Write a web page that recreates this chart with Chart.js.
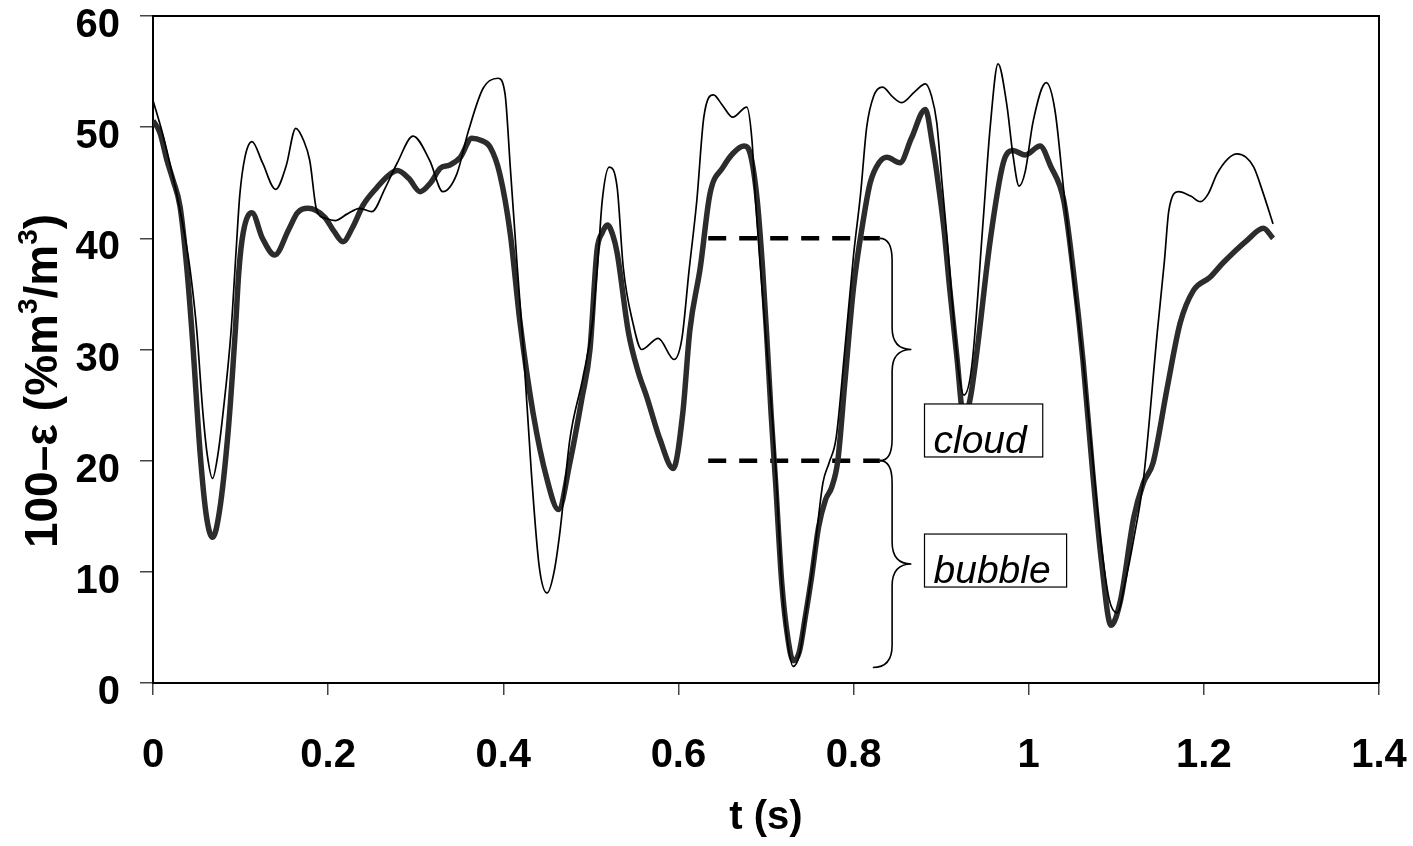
<!DOCTYPE html>
<html>
<head>
<meta charset="utf-8">
<script src="https://cdn.jsdelivr.net/npm/chart.js@4/dist/chart.umd.min.js"></script>
<style>
  html, body { margin: 0; padding: 0; background: #fff; }
  #wrap { width: 1413px; height: 846px; }
</style>
</head>
<body>
<div id="wrap"><canvas id="voidChart" width="1413" height="846"></canvas></div>
<script>
// Thin curve: time (s) and 100-eps (%m3/m3)
const thinT = [0.000, 0.010, 0.020, 0.031, 0.040, 0.045, 0.050, 0.057, 0.062, 0.068, 0.074, 0.080, 0.089, 0.095, 0.099, 0.105, 0.113, 0.125, 0.140, 0.152, 0.163, 0.172, 0.179, 0.187, 0.197, 0.208, 0.222, 0.236, 0.250, 0.265, 0.279, 0.297, 0.316, 0.331, 0.347, 0.360, 0.377, 0.394, 0.402, 0.408, 0.416, 0.423, 0.432, 0.441, 0.450, 0.458, 0.465, 0.476, 0.491, 0.502, 0.508, 0.513, 0.521, 0.530, 0.537, 0.548, 0.558, 0.577, 0.595, 0.604, 0.612, 0.621, 0.629, 0.640, 0.650, 0.662, 0.678, 0.684, 0.688, 0.693, 0.701, 0.711, 0.718, 0.725, 0.731, 0.738, 0.745, 0.754, 0.765, 0.772, 0.780, 0.790, 0.800, 0.808, 0.815, 0.823, 0.833, 0.845, 0.855, 0.870, 0.882, 0.889, 0.895, 0.901, 0.907, 0.914, 0.920, 0.926, 0.935, 0.948, 0.956, 0.965, 0.975, 0.982, 0.989, 0.996, 1.005, 1.020, 1.030, 1.040, 1.050, 1.062, 1.072, 1.082, 1.092, 1.101, 1.110, 1.120, 1.131, 1.147, 1.155, 1.160, 1.171, 1.185, 1.196, 1.205, 1.215, 1.228, 1.238, 1.248, 1.257, 1.268, 1.279];
const thinY = [52.4, 49.7, 46.5, 42.5, 38.5, 35.5, 31.7, 24.3, 20.5, 18.4, 20.5, 24.3, 31.5, 39.0, 43.8, 47.3, 48.7, 46.8, 44.4, 46.5, 49.9, 48.8, 47.0, 42.5, 41.8, 41.6, 42.2, 42.7, 42.4, 44.5, 46.8, 49.2, 47.0, 44.2, 45.8, 49.6, 53.5, 54.4, 53.0, 46.4, 37.4, 30.0, 19.0, 10.5, 8.1, 10.0, 13.8, 21.9, 27.5, 32.5, 38.0, 43.4, 46.4, 44.6, 37.4, 32.4, 30.0, 31.0, 29.1, 31.0, 37.0, 43.4, 50.9, 52.9, 52.0, 50.9, 51.8, 48.8, 43.4, 38.0, 30.0, 19.5, 9.0, 3.5, 1.5, 2.5, 6.0, 10.8, 18.0, 19.8, 22.0, 30.0, 38.5, 44.0, 50.0, 52.8, 53.6, 52.7, 52.2, 53.2, 53.9, 52.8, 50.4, 45.0, 39.8, 33.0, 28.0, 25.9, 28.5, 41.6, 50.0, 55.7, 52.0, 47.5, 44.7, 46.0, 50.5, 54.0, 51.5, 44.3, 37.0, 29.0, 21.0, 13.0, 7.5, 6.3, 9.0, 13.0, 18.3, 31.7, 38.0, 42.5, 44.2, 43.8, 43.3, 44.0, 45.8, 47.2, 47.6, 47.3, 46.4, 44.0, 41.3];

// Thick curve
const thickT = [0.000, 0.008, 0.016, 0.023, 0.031, 0.039, 0.045, 0.054, 0.061, 0.068, 0.076, 0.086, 0.094, 0.098, 0.103, 0.113, 0.125, 0.139, 0.155, 0.165, 0.177, 0.196, 0.207, 0.217, 0.228, 0.240, 0.256, 0.268, 0.279, 0.292, 0.305, 0.317, 0.328, 0.339, 0.351, 0.364, 0.375, 0.385, 0.396, 0.408, 0.419, 0.434, 0.450, 0.463, 0.476, 0.490, 0.499, 0.507, 0.513, 0.519, 0.525, 0.530, 0.543, 0.554, 0.564, 0.579, 0.594, 0.605, 0.613, 0.625, 0.636, 0.651, 0.663, 0.675, 0.682, 0.690, 0.696, 0.701, 0.706, 0.711, 0.718, 0.725, 0.731, 0.738, 0.745, 0.752, 0.760, 0.768, 0.775, 0.782, 0.790, 0.800, 0.811, 0.819, 0.829, 0.838, 0.853, 0.866, 0.882, 0.890, 0.895, 0.903, 0.910, 0.918, 0.926, 0.933, 0.941, 0.956, 0.971, 0.982, 0.996, 1.013, 1.025, 1.040, 1.051, 1.062, 1.073, 1.083, 1.094, 1.105, 1.120, 1.131, 1.142, 1.158, 1.173, 1.188, 1.207, 1.222, 1.249, 1.268, 1.279];
const thickY = [50.6, 49.5, 47.0, 45.2, 42.8, 37.0, 31.0, 20.5, 15.0, 13.1, 15.5, 22.8, 31.7, 37.0, 40.5, 42.3, 40.0, 38.5, 40.8, 42.3, 42.7, 41.9, 40.6, 39.7, 41.0, 43.0, 44.6, 45.6, 46.1, 45.4, 44.2, 45.0, 46.3, 46.6, 47.3, 49.0, 48.8, 48.2, 45.8, 40.4, 32.5, 24.3, 18.3, 15.6, 19.8, 25.7, 30.0, 38.9, 40.5, 41.2, 40.3, 38.7, 31.5, 28.0, 25.7, 21.9, 19.3, 24.3, 31.7, 37.4, 44.0, 46.4, 47.7, 48.3, 47.6, 43.4, 37.4, 31.0, 24.0, 18.0, 9.0, 4.0, 2.0, 2.8, 6.0, 9.5, 14.0, 16.5, 17.6, 20.0, 27.0, 35.6, 41.6, 45.0, 46.8, 47.3, 46.8, 49.0, 51.6, 48.5, 45.9, 41.0, 35.3, 29.3, 23.8, 25.5, 29.9, 39.8, 46.8, 47.9, 47.5, 48.3, 46.5, 43.4, 37.0, 29.0, 19.0, 11.0, 5.2, 7.5, 14.9, 18.0, 19.8, 26.5, 32.4, 35.3, 36.5, 37.8, 39.8, 40.9, 40.0];

// Dashed threshold lines (cloud above 40, bubble below 20)
const dashLevels = [40, 20];
const dashStartT = 0.634;
const dashEndT = 0.830;

// Axis ticks
const xTickMax = 1.4;
const xTickStep = 0.2;
const yTickMax = 60;
const yTickStep = 10;

// Brace annotations, in data units
const braceSpans = [
  { top: 40, bottom: 20, endTop: 0.830, endBottom: 0.830 },
  { top: 20, bottom: 1.4, endTop: 0.830, endBottom: 0.822 }
];
const braceLineT = 0.844;
const braceTipT = 0.866;

// Boxed labels (top-left corner of each box, in data units)
const boxLabels = [
  { text: 'cloud', t: 0.881, y: 25.1 },
  { text: 'bubble', t: 0.881, y: 13.4 }
];

// y axis title pieces: [text, isSuperscript]
const yTitleParts = [['100–ε (%m', false], ['3', true], ['/m', false], ['3', true], [')', false]];

const FONT = "'Liberation Sans', Arial, Helvetica, sans-serif";

function toPoints(xs, ys) {
  return xs.map((x, i) => ({ x: x, y: ys[i] }));
}

// Draws a curly brace pointing right
function drawBrace(ctx, xEndTop, xEndBot, xLine, xTip, yTop, yBot, r) {
  const yMid = (yTop + yBot) / 2;
  ctx.beginPath();
  ctx.moveTo(xEndTop, yTop);
  ctx.quadraticCurveTo(xLine, yTop, xLine, yTop + r);
  ctx.lineTo(xLine, yMid - r);
  ctx.quadraticCurveTo(xLine, yMid, xTip, yMid);
  ctx.moveTo(xTip, yMid);
  ctx.quadraticCurveTo(xLine, yMid, xLine, yMid + r);
  ctx.lineTo(xLine, yBot - r);
  ctx.quadraticCurveTo(xLine, yBot, xEndBot, yBot);
  ctx.stroke();
}

// Rotated y title with raised exponents
function drawYTitle(ctx, cx, cy) {
  const mainFont = 'bold 46px ' + FONT;
  const supFont = 'bold 28px ' + FONT;
  ctx.save();
  let total = 0;
  const widths = yTitleParts.map(([txt, sup]) => {
    ctx.font = sup ? supFont : mainFont;
    const w = ctx.measureText(txt).width;
    total += w;
    return w;
  });
  ctx.translate(cx, cy);
  ctx.rotate(-Math.PI / 2);
  ctx.fillStyle = '#000';
  ctx.textBaseline = 'alphabetic';
  ctx.textAlign = 'left';
  let pos = -total / 2;
  yTitleParts.forEach(([txt, sup], i) => {
    ctx.font = sup ? supFont : mainFont;
    ctx.fillText(txt, pos, sup ? -20 : 0);
    pos += widths[i];
  });
  ctx.restore();
}

const annotationPlugin = {
  id: 'annotations',
  afterDatasetsDraw(chart) {
    const { ctx, chartArea, scales } = chart;
    const x = scales.x, y = scales.y;
    ctx.save();

    // top and right frame
    ctx.strokeStyle = '#000';
    ctx.lineWidth = 2;
    ctx.beginPath();
    ctx.moveTo(chartArea.left, chartArea.top);
    ctx.lineTo(chartArea.right, chartArea.top);
    ctx.lineTo(chartArea.right, chartArea.bottom);
    ctx.stroke();

    // braces
    ctx.lineWidth = 1.6;
    braceSpans.forEach(b => {
      drawBrace(ctx,
        x.getPixelForValue(b.endTop), x.getPixelForValue(b.endBottom),
        x.getPixelForValue(braceLineT), x.getPixelForValue(braceTipT),
        y.getPixelForValue(b.top), y.getPixelForValue(b.bottom), 22);
    });

    // boxed labels
    ctx.font = 'italic 39px ' + FONT;
    ctx.textBaseline = 'alphabetic';
    ctx.textAlign = 'left';
    boxLabels.forEach(l => {
      const left = x.getPixelForValue(l.t);
      const top = y.getPixelForValue(l.y);
      const w = ctx.measureText(l.text).width + 25;
      ctx.fillStyle = '#fff';
      ctx.fillRect(left, top, w, 53);
      ctx.lineWidth = 1.2;
      ctx.strokeStyle = '#000';
      ctx.strokeRect(left, top, w, 53);
      ctx.fillStyle = '#000';
      ctx.fillText(l.text, left + 9, top + 49);
    });
    ctx.restore();

    // y axis title
    drawYTitle(ctx, 57, 381);
  }
};

function renderChart() {
  const datasets = [
    {
      label: 'thin',
      data: toPoints(thinT, thinY),
      borderColor: '#000',
      borderWidth: 1.7,
      pointRadius: 0,
      cubicInterpolationMode: 'monotone',
      order: 0
    },
    {
      label: 'thick',
      data: toPoints(thickT, thickY),
      borderColor: '#2c2c2c',
      borderWidth: 5.5,
      pointRadius: 0,
      cubicInterpolationMode: 'monotone',
      order: 1
    }
  ];
  dashLevels.forEach(level => {
    datasets.push({
      label: 'level ' + level,
      data: [{ x: dashStartT, y: level }, { x: dashEndT, y: level }],
      borderColor: '#000',
      borderWidth: 4.5,
      borderDash: [18, 13],
      pointRadius: 0,
      order: 2
    });
  });

  const ctx = document.getElementById('voidChart').getContext('2d');
  new Chart(ctx, {
    type: 'line',
    data: { datasets: datasets },
    options: {
      responsive: false,
      animation: false,
      devicePixelRatio: 1,
      layout: { padding: { left: 0, right: 34, top: 16, bottom: 0 } },
      plugins: { legend: { display: false }, tooltip: { enabled: false } },
      scales: {
        x: {
          type: 'linear',
          min: 0,
          max: xTickMax,
          afterFit: s => { s.height = 163; s.paddingLeft = 0; s.paddingRight = 0; },
          ticks: {
            stepSize: xTickStep,
            color: '#000',
            padding: 37,
            maxRotation: 0,
            font: { family: FONT, size: 40, weight: 'bold' },
            callback: v => Number(v.toFixed(1)).toString()
          },
          grid: { drawOnChartArea: false, drawTicks: true, tickLength: 12, color: '#444', lineWidth: 1.5 },
          border: { color: '#000', width: 2 },
          title: {
            display: true,
            text: 't (s)',
            color: '#000',
            font: { family: FONT, size: 40, weight: 'bold' },
            padding: { top: 0, bottom: 4 }
          }
        },
        y: {
          min: 0,
          max: yTickMax,
          afterFit: s => { s.width = 153; s.paddingTop = 0; s.paddingBottom = 0; },
          ticks: {
            stepSize: yTickStep,
            color: '#000',
            padding: 20,
            labelOffset: 10,
            font: { family: FONT, size: 40, weight: 'bold' }
          },
          grid: { drawOnChartArea: false, drawTicks: true, tickLength: 13, color: '#444', lineWidth: 1.5 },
          border: { color: '#000', width: 2 },
          title: { display: false }
        }
      }
    },
    plugins: [annotationPlugin]
  });
}

document.addEventListener('DOMContentLoaded', renderChart);
</script>
</body>
</html>
